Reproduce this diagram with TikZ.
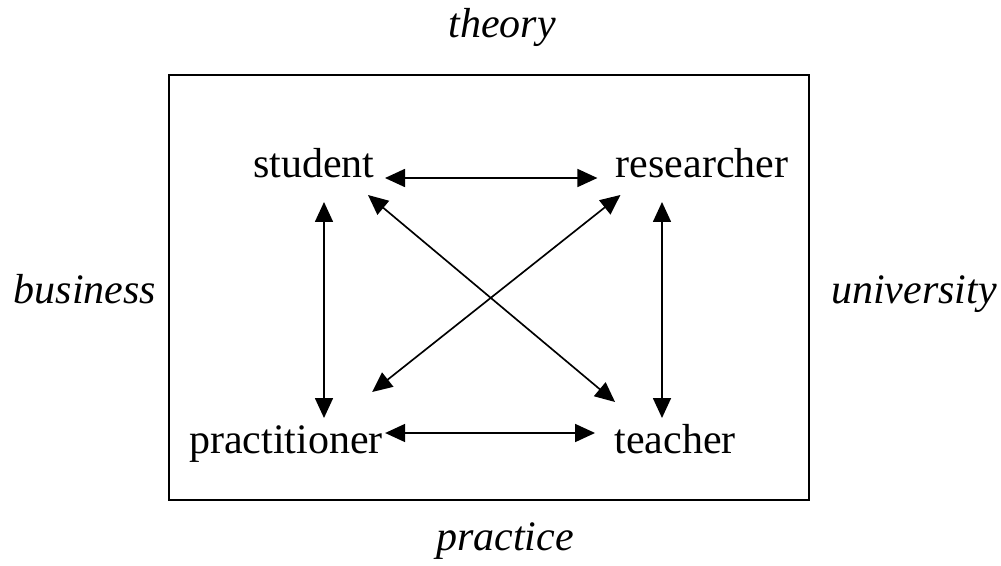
\documentclass[tikz,border=0pt]{standalone}
\usepackage{fontspec}
\setmainfont{Liberation Serif}
\usetikzlibrary{arrows.meta,calc}

\tikzset{
    role/.style={inner sep=0pt, anchor=base, font=\fontsize{23.9pt}{28pt}\selectfont},
    side/.style={role, font=\fontsize{23.9pt}{28pt}\selectfont\itshape},
    link/.style={line width=0.95pt, {Triangle[length=0.4cm,width=0.36cm]}-{Triangle[length=0.4cm,width=0.36cm]}},
    frame/.style={line width=1.3pt}
}

\begin{document}
\begin{tikzpicture}[x=0.02cm, y=-0.02cm]
    \useasboundingbox (0,0) rectangle (1001,565);
    \draw[frame] (169,75) rectangle (809,500);

    % the four roles
    \node[role] (S) at (314,177) {student};
    \node[role] (R) at (702,177) {researcher};
    \node[role] (P) at (286,453) {practitioner};
    \node[role] (T) at (675,453) {teacher};

    % the four sides
    \node[side] (Th) at (502,37) {theory};
    \node[side] (Pr) at (505,550) {practice};
    \node[side] (Bu) at (85,303) {business};
    \node[side] (Un) at (914,303) {university};

    \draw[link] ($(S.base east)+(10,1)$) -- ($(R.base west)+(-18,1)$);
    \draw[link] ($(P.base east)+(2,-20)$) -- ($(T.base west)+(-19,-20)$);
    \draw[link] ($(S.base)+(10,25)$) -- ($(P.base)+(38,-35)$);
    \draw[link] ($(R.base)+(-40,25)$) -- ($(T.base)+(-13,-35)$);
    \draw[link] ($(S.base east)+(-7,18)$) -- ($(T.base west)+(1,-51)$);
    \draw[link] ($(R.base west)+(5,18)$) -- ($(P.base east)+(-11,-61)$);
\end{tikzpicture}
\end{document}
